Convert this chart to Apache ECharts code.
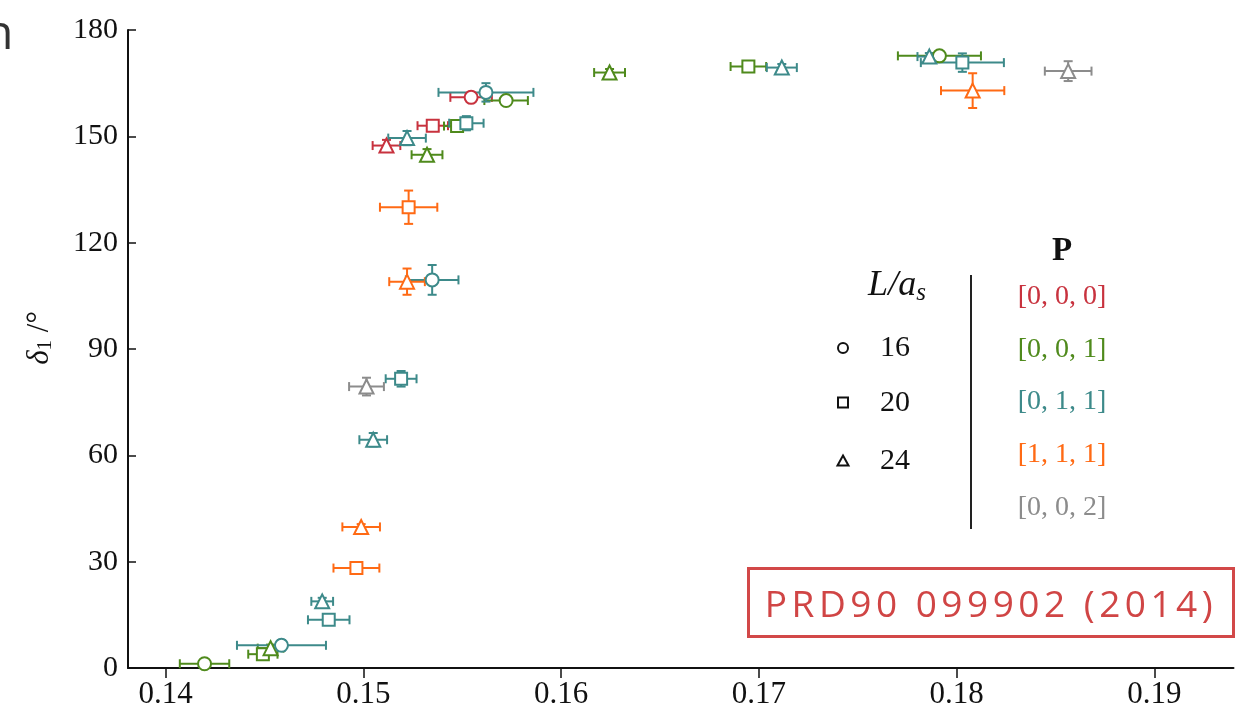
<!DOCTYPE html>
<html>
<head>
<meta charset="utf-8">
<script src="https://cdn.jsdelivr.net/npm/echarts@6/dist/echarts.min.js"></script>
<style>
  html, body { margin: 0; padding: 0; background: #fff; }
  #wrap { position: relative; width: 1250px; height: 713px; overflow: hidden; }
  #chart { position: absolute; left: 0; top: 0; width: 1250px; height: 713px; }
  #ref {
    position: absolute; left: 747px; top: 567px; width: 488px; height: 71px;
    box-sizing: border-box; border: 3px solid #d24848;
    color: #d04545; font-family: "Open Sans", sans-serif; font-size: 37px;
    letter-spacing: 4.5px; line-height: 65px; text-align: center; white-space: nowrap;
  }
</style>
</head>
<body>
<div id="wrap">
  <div id="chart"></div>
  <div id="ref">PRD90 099902 (2014)</div>
</div>
<script>
// ---- data: [x, delta1, xErr, yErr, L/a_s] ----
const p000 = [
  [0.15545, 161.0, 0.00105, 1.0, 16],
  [0.15351, 153.0, 0.00077, 1.0, 20],
  [0.15117, 147.4, 0.00070, 1.6, 24]
];
const p001 = [
  [0.15722, 160.1, 0.00110, 1.0, 16],
  [0.14197, 1.2, 0.00125, 0.5, 16],
  [0.17913, 172.7, 0.00210, 1.0, 16],
  [0.15474, 152.9, 0.00066, 1.0, 20],
  [0.14492, 3.9, 0.00074, 1.0, 20],
  [0.16947, 169.7, 0.00090, 1.0, 20],
  [0.15322, 144.8, 0.00078, 1.6, 24],
  [0.14531, 5.6, 0.00065, 1.0, 24],
  [0.16245, 168.0, 0.00078, 1.0, 24]
];
const p011 = [
  [0.15620, 162.4, 0.00240, 2.6, 16],
  [0.15348, 109.5, 0.00133, 4.2, 16],
  [0.14586, 6.4, 0.00225, 1.5, 16],
  [0.15521, 153.7, 0.00087, 2.0, 20],
  [0.15191, 81.6, 0.00078, 2.2, 20],
  [0.14825, 13.6, 0.00105, 1.0, 20],
  [0.18029, 170.8, 0.00210, 2.6, 20],
  [0.15221, 149.5, 0.00095, 2.0, 24],
  [0.15050, 64.4, 0.00070, 1.9, 24],
  [0.14792, 18.8, 0.00055, 1.0, 24],
  [0.17116, 169.4, 0.00076, 1.0, 24],
  [0.17862, 172.5, 0.00060, 1.0, 24]
];
const p111 = [
  [0.15229, 130.0, 0.00145, 4.7, 20],
  [0.14965, 28.2, 0.00116, 0.8, 20],
  [0.15221, 109.0, 0.00090, 3.7, 24],
  [0.14989, 39.8, 0.00095, 0.8, 24],
  [0.18081, 162.9, 0.00160, 4.9, 24]
];
const p002 = [
  [0.15016, 79.4, 0.00088, 2.5, 24],
  [0.18564, 168.4, 0.00118, 2.8, 24]
];
const pLabels = ['[0, 0, 0]', '[0, 0, 1]', '[0, 1, 1]', '[1, 1, 1]', '[0, 0, 2]'];
const pColors = ['#c8323e', '#4f8a1c', '#3d8a8a', '#ff6a14', '#8c8c8c'];
const lValues = [16, 20, 24];
const xTicks = [0.14, 0.15, 0.16, 0.17, 0.18, 0.19];
const yTicks = [0, 30, 60, 90, 120, 150, 180];

const groups = [p000, p001, p011, p111, p002];
const symbolOf = { 16: 'circle', 20: 'rect', 24: 'triangle' };
const sizeOf = { 16: 13, 20: 12, 24: 14 };
const SERIF = '"Liberation Serif", "DejaVu Serif", serif';

function errRender(color) {
  return function (params, api) {
    const x = api.value(0), y = api.value(1), xe = api.value(2), ye = api.value(3);
    const l = api.coord([x - xe, y]), r = api.coord([x + xe, y]);
    const t = api.coord([x, y + ye]), b = api.coord([x, y - ye]);
    const c = 4.5;
    const st = { stroke: color, lineWidth: 2 };
    const ln = (x1, y1, x2, y2) => ({ type: 'line', shape: { x1, y1, x2, y2 }, style: st });
    return {
      type: 'group',
      children: [
        ln(l[0], l[1], r[0], r[1]),
        ln(l[0], l[1] - c, l[0], l[1] + c),
        ln(r[0], r[1] - c, r[0], r[1] + c),
        ln(t[0], t[1], b[0], b[1]),
        ln(t[0] - c, t[1], t[0] + c, t[1]),
        ln(b[0] - c, b[1], b[0] + c, b[1])
      ]
    };
  };
}

const series = [];
groups.forEach((g, gi) => {
  const color = pColors[gi];
  series.push({
    type: 'custom', name: pLabels[gi] + ' err', renderItem: errRender(color),
    data: g, encode: { x: 0, y: 1 }, silent: true, clip: false
  });
  lValues.forEach(L => {
    const d = g.filter(p => p[4] === L).map(p => [p[0], p[1]]);
    if (!d.length) return;
    series.push({
      type: 'scatter', name: pLabels[gi] + ' ' + L, data: d,
      symbol: symbolOf[L], symbolSize: sizeOf[L],
      itemStyle: { color: '#fff', borderColor: color, borderWidth: 2, opacity: 1 },
      silent: true
    });
  });
});

// legend built as graphics
const graphic = [
  { type: 'text', x: -16, y: 35, style: { text: 'n', font: '48px "Open Sans", sans-serif', fill: '#333', verticalAlign: 'middle' } },
  { type: 'text', x: 40, y: 338, rotation: Math.PI / 2,
    style: { text: '{d|δ}{s|1}{n| /°}', align: 'center', verticalAlign: 'middle',
      rich: {
        d: { fontSize: 31, fontStyle: 'italic', fontFamily: SERIF, fill: '#111' },
        s: { fontSize: 21, fontFamily: SERIF, fill: '#111', verticalAlign: 'bottom', padding: [10, 0, 0, 0] },
        n: { fontSize: 31, fontFamily: SERIF, fill: '#111' }
      } } },
  { type: 'text', x: 897, y: 286,
    style: { text: '{a|L/a}{b|s}', align: 'center', verticalAlign: 'middle',
      rich: {
        a: { fontSize: 36, fontStyle: 'italic', fontFamily: SERIF, fill: '#111' },
        b: { fontSize: 25, fontStyle: 'italic', fontFamily: SERIF, fill: '#111', verticalAlign: 'bottom', padding: [14, 0, 0, 0] }
      } } },
  { type: 'line', shape: { x1: 971, y1: 275, x2: 971, y2: 529 }, style: { stroke: '#222', lineWidth: 2 } },
  { type: 'text', x: 1062, y: 251, style: { text: 'P', font: 'bold 33px ' + SERIF, fill: '#111', align: 'center', verticalAlign: 'middle' } },
  { type: 'circle', shape: { cx: 843, cy: 348, r: 5 }, style: { fill: '#fff', stroke: '#111', lineWidth: 2 } },
  { type: 'rect', shape: { x: 838, y: 397.5, width: 10, height: 10 }, style: { fill: '#fff', stroke: '#111', lineWidth: 2 } },
  { type: 'polygon', shape: { points: [[843, 455.5], [848.5, 465.5], [837.5, 465.5]] }, style: { fill: '#fff', stroke: '#111', lineWidth: 2 } }
];
const lY = [348, 403, 461];
lValues.forEach((L, i) => {
  graphic.push({ type: 'text', x: 895, y: lY[i], style: { text: String(L), font: '30px ' + SERIF, fill: '#111', align: 'center', verticalAlign: 'middle' } });
});
const pY = [297, 350, 402, 455, 508];
pLabels.forEach((t, i) => {
  graphic.push({ type: 'text', x: 1062, y: pY[i], style: { text: t, font: '28px ' + SERIF, fill: pColors[i], align: 'center', verticalAlign: 'middle' } });
});

const chart = echarts.init(document.getElementById('chart'), null, { renderer: 'canvas' });
chart.setOption({
  animation: false,
  backgroundColor: 'transparent',
  grid: { left: 128, right: 16.5, top: 30, bottom: 45, containLabel: false },
  xAxis: {
    type: 'value', min: 0.1381, max: 0.194,
    axisLine: { show: true, onZero: false, lineStyle: { color: '#111', width: 2 } },
    axisTick: { show: true, customValues: xTicks, length: 10, inside: false, lineStyle: { color: '#111', width: 1.5 } },
    axisLabel: { customValues: xTicks, formatter: v => v.toFixed(2), fontFamily: SERIF, fontSize: 31, color: '#111', margin: 11 },
    splitLine: { show: false }
  },
  yAxis: {
    type: 'value', min: 0, max: 180, interval: 30,
    axisLine: { show: true, onZero: false, lineStyle: { color: '#111', width: 2 } },
    axisTick: { show: true, customValues: yTicks, length: 8, inside: true, lineStyle: { color: '#111', width: 1.5 } },
    axisLabel: { customValues: yTicks, fontFamily: SERIF, fontSize: 30, color: '#111', margin: 10 },
    splitLine: { show: false }
  },
  series: series,
  graphic: graphic
});
</script>
</body>
</html>
